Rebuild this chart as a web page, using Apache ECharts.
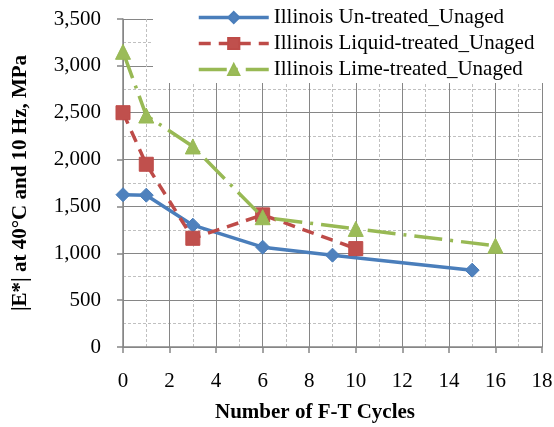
<!DOCTYPE html>
<html>
<head>
<meta charset="utf-8">
<script src="https://cdn.jsdelivr.net/npm/echarts@6/dist/echarts.min.js"></script>
<style>html,body{margin:0;padding:0;background:#fff}#c{width:554px;height:427px}</style>
</head>
<body>
<div id="c"></div>
<script>
const seriesNames = ['Illinois Un-treated_Unaged', 'Illinois Liquid-treated_Unaged', 'Illinois Lime-treated_Unaged'];
const cyclesUntreated = [0, 1, 3, 6, 9, 15];
const modulusUntreated = [1625, 1620, 1300, 1065, 980, 820];
const cyclesLiquid = [0, 1, 3, 6, 10];
const modulusLiquid = [2500, 1950, 1160, 1410, 1050];
const cyclesLime = [0, 1, 3, 6, 10, 16];
const modulusLime = [3150, 2470, 2140, 1385, 1260, 1080];
const xAxisTitle = 'Number of F-T Cycles';
const yAxisTitle = '|E*| at 40°C and 10 Hz, MPa';

const pairs = (xs, ys) => xs.map((x, i) => [x, ys[i]]);
const FONT = "'Liberation Serif', 'Times New Roman', serif";
const MAJOR = '#868686';
const MINOR = '#c0c0c0';

const chart = echarts.init(document.getElementById('c'));
chart.setOption({
  animation: false,
  backgroundColor: '#fff',
  textStyle: { fontFamily: FONT, color: '#000' },
  grid: { left: 123, right: 12, top: 19, bottom: 80, containLabel: false, outerBoundsMode: 'none' },
  legend: {
    orient: 'vertical',
    left: 153,
    top: 0,
    padding: [7, 40, 3, 44],
    backgroundColor: '#fff',
    itemWidth: 70,
    itemHeight: 14,
    itemGap: 5,
    lineStyle: { width: 3.5 },
    textStyle: { fontFamily: FONT, fontSize: 21, color: '#000', lineHeight: 21 },
    data: seriesNames
  },
  xAxis: {
    type: 'value', min: 0, max: 18, interval: 2,
    name: xAxisTitle, nameLocation: 'middle', nameGap: 55,
    nameTextStyle: { fontFamily: FONT, fontSize: 21, fontWeight: 'bold', color: '#000', padding: [0, 35, 0, 0] },
    axisLine: { show: true, onZero: false, lineStyle: { color: MAJOR, width: 1.5 } },
    axisTick: { show: true, inside: false, length: 6, lineStyle: { color: MAJOR, width: 1.5 } },
    axisLabel: { fontFamily: FONT, fontSize: 21, color: '#000', margin: 24 },
    splitLine: { show: true, lineStyle: { color: MAJOR, width: 1 } },
    minorTick: { show: false, splitNumber: 2 },
    minorSplitLine: { show: true, lineStyle: { color: MINOR, width: 1, type: [3, 2] } }
  },
  yAxis: {
    type: 'value', min: 0, max: 3500, interval: 500,
    name: yAxisTitle, nameLocation: 'middle', nameGap: 92, nameRotate: 90,
    nameTextStyle: { fontFamily: FONT, fontSize: 21, fontWeight: 'bold', color: '#000' },
    axisLine: { show: true, onZero: false, lineStyle: { color: MAJOR, width: 1.5 } },
    axisTick: { show: true, inside: false, length: 6, lineStyle: { color: MAJOR, width: 1.5 } },
    axisLabel: { fontFamily: FONT, fontSize: 21, color: '#000', margin: 22,
      formatter: v => v.toLocaleString('en-US') },
    splitLine: { show: true, lineStyle: { color: MAJOR, width: 1 } },
    minorTick: { show: false, splitNumber: 2 },
    minorSplitLine: { show: true, lineStyle: { color: MINOR, width: 1, type: [3, 2] } }
  },
  series: [
    {
      name: seriesNames[0], type: 'line', data: pairs(cyclesUntreated, modulusUntreated),
      symbol: 'diamond', symbolSize: 14, showAllSymbol: true,
      lineStyle: { color: '#4A7EBB', width: 3.5, type: 'solid' },
      itemStyle: { color: '#4F81BD', borderColor: '#4A7EBB', borderWidth: 1 },
      z: 3
    },
    {
      name: seriesNames[1], type: 'line', data: pairs(cyclesLiquid, modulusLiquid),
      symbol: 'rect', symbolSize: 14, showAllSymbol: true,
      lineStyle: { color: '#BE4B48', width: 3.5, type: [12, 8] },
      itemStyle: { color: '#C0504D', borderColor: '#BE4B48', borderWidth: 1 },
      z: 4
    },
    {
      name: seriesNames[2], type: 'line', data: pairs(cyclesLime, modulusLime),
      symbol: 'triangle', symbolSize: 15, showAllSymbol: true,
      lineStyle: { color: '#98B954', width: 3.5, type: [28, 8, 3, 8] },
      itemStyle: { color: '#9BBB59', borderColor: '#98B954', borderWidth: 1 },
      z: 5
    }
  ]
});
</script>
</body>
</html>
